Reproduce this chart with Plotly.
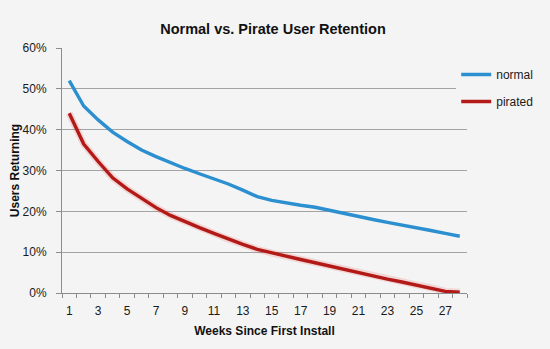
import plotly.graph_objects as go

weeks = list(range(1, 29))
normal = [52.0, 45.8, 42.4, 39.4, 37.1, 35.0, 33.4, 31.9, 30.5, 29.2,
          28.0, 26.7, 25.2, 23.6, 22.7, 22.0, 21.5, 21.0, 20.2, 19.4,
          18.7, 18.0, 17.3, 16.7, 16.0, 15.3, 14.6, 13.9]
pirated = [44.0, 36.5, 32.2, 28.2, 25.5, 23.1, 20.9, 19.0, 17.4, 16.0,
           14.6, 13.2, 11.9, 10.7, 9.8, 9.0, 8.2, 7.4, 6.6, 5.8,
           4.8, 4.1, 3.4, 2.7, 2.0, 1.3, 0.4, 0.2]
y_ticks = [0, 10, 20, 30, 40, 50, 60]
x_ticks = list(range(1, 28, 2))

W, H = 550, 349
L, R, T, B = 62, 75, 48, 56
FONT = "Liberation Sans, Arial, sans-serif"
BG = "#f4f4f4"

fig = go.Figure()
# faint glow under the red line
fig.add_trace(go.Scatter(x=weeks, y=pirated, mode="lines",
                         line=dict(color="rgba(230,60,60,0.16)", width=7),
                         showlegend=False, hoverinfo="skip"))
fig.add_trace(go.Scatter(x=weeks, y=normal, name="normal", mode="lines",
                         line=dict(color="#2b8fd0", width=3.4),
                         legendgroup="a"))
fig.add_trace(go.Scatter(x=weeks, y=pirated, name="pirated", mode="lines",
                         line=dict(color="#b31a17", width=3.4),
                         legendgroup="b"))

fig.update_layout(
    width=W, height=H,
    margin=dict(l=L, r=R, t=T, b=B, pad=0),
    paper_bgcolor=BG, plot_bgcolor=BG,
    font=dict(family=FONT, size=12, color="#1a1a1a"),
    title=dict(text="<b>Normal vs. Pirate User Retention</b>",
               x=273 / W, xanchor="center", xref="container",
               y=1 - 29 / H, yanchor="middle", yref="container",
               font=dict(size=14.5, color="#111111")),
    legend=dict(x=(464 - L) / (W - L - R), xanchor="left",
                y=(H - B - 60) / (H - T - B), yanchor="top",
                bgcolor=BG, font=dict(size=12, color="#1a1a1a"),
                tracegroupgap=8, traceorder="grouped", itemwidth=30),
    showlegend=True,
)

fig.update_xaxes(
    range=[0.5, 28.5], tickmode="array", tickvals=x_ticks,
    ticktext=[str(v) for v in x_ticks], ticks="",
    showgrid=False, zeroline=False,
    showline=True, linecolor="#8c8c8c", linewidth=1,
    ticklabelstandoff=7,
    minor=dict(ticks="outside", tickmode="linear", tick0=0.5, dtick=1,
               ticklen=4, tickcolor="#8c8c8c", showgrid=False),
    title=dict(text="<b>Weeks Since First Install</b>", standoff=9,
               font=dict(size=12, color="#111111")),
    fixedrange=True,
)
fig.update_yaxes(
    range=[0, 60], tickmode="array", tickvals=y_ticks,
    ticktext=[f"{v}%" for v in y_ticks],
    ticks="outside", ticklen=5, tickcolor="#8c8c8c",
    ticklabelstandoff=7,
    showgrid=True, gridcolor="#a3a3a3", gridwidth=1,
    zeroline=False, showline=True, linecolor="#8c8c8c", linewidth=1,
    title=dict(text="<b>Users Returning</b>", standoff=0,
               font=dict(size=12, color="#111111")),
    fixedrange=True,
)

fig.write_html("out.html")
